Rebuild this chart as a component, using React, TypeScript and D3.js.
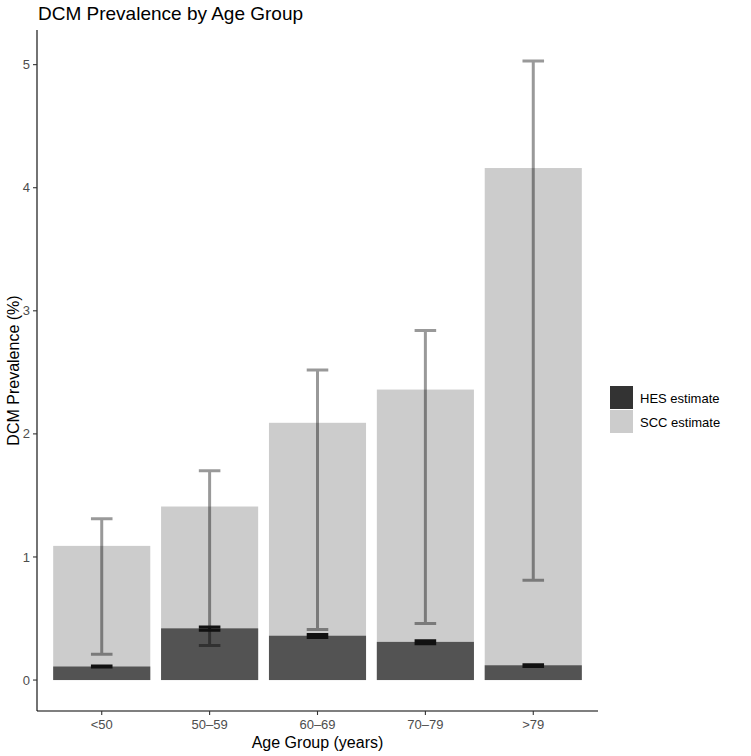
import React from "react";
import * as d3 from "d3";

const categories = ["<50", "50–59", "60–69", "70–79", ">79"];
const sccEstimate = [1.09, 1.41, 2.09, 2.36, 4.16];
const sccLower = [0.21, 0.28, 0.41, 0.46, 0.81];
const sccUpper = [1.31, 1.70, 2.52, 2.84, 5.03];
const hesEstimate = [0.11, 0.42, 0.36, 0.31, 0.12];
const hesLower = [0.105, 0.405, 0.345, 0.295, 0.11];
const hesUpper = [0.115, 0.43, 0.37, 0.32, 0.125];
const yTicks = [0, 1, 2, 3, 4, 5];
const legendItems = ["HES estimate", "SCC estimate"];

const W = 751;
const H = 756;
const FONT = "'Liberation Sans', Arial, Helvetica, sans-serif";

export default function App() {
  const left = 37;
  const right = 598;
  const top = 30;
  const bottom = 711;

  const x = d3
    .scaleBand<string>()
    .domain(categories)
    .range([left, right])
    .paddingInner(0.1)
    .paddingOuter(0.15);
  const y = d3.scaleLinear().domain([-0.2515, 5.2815]).range([bottom, top]);
  const bw = x.bandwidth();
  const capW = x.step() * 0.2;

  const legendColors = ["#333333", "#cccccc"];

  return (
    <svg
      width={W}
      height={H}
      style={{ position: "absolute", left: 0, top: 0, background: "#fff" }}
      fontFamily={FONT}
    >
      <rect x={0} y={0} width={W} height={H} fill="#fff" />
      {/* title */}
      <text x={38} y={20} fontSize={19} fill="#000">
        DCM Prevalence by Age Group
      </text>

      {/* SCC bars */}
      {categories.map((c, i) => (
        <rect
          key={"scc" + c}
          x={x(c)}
          y={y(sccEstimate[i])}
          width={bw}
          height={y(0) - y(sccEstimate[i])}
          fill="#cccccc"
        />
      ))}
      {/* HES bars */}
      {categories.map((c, i) => (
        <rect
          key={"hes" + c}
          x={x(c)}
          y={y(hesEstimate[i])}
          width={bw}
          height={y(0) - y(hesEstimate[i])}
          fill="#535353"
        />
      ))}
      {/* SCC error bars */}
      {categories.map((c, i) => {
        const cx = (x(c) as number) + bw / 2;
        return (
          <g key={"sccerr" + c} stroke="#000" strokeOpacity={0.4} strokeWidth={3} fill="none">
            <path
              d={`M${cx - capW / 2},${y(sccUpper[i])}H${cx + capW / 2}M${cx},${y(sccUpper[i])}V${y(
                sccLower[i]
              )}M${cx - capW / 2},${y(sccLower[i])}H${cx + capW / 2}`}
            />
          </g>
        );
      })}
      {/* HES error bars */}
      {categories.map((c, i) => {
        const cx = (x(c) as number) + bw / 2;
        return (
          <g key={"heserr" + c} stroke="#111" strokeWidth={3} fill="none">
            <path
              d={`M${cx - capW / 2},${y(hesUpper[i])}H${cx + capW / 2}M${cx},${y(hesUpper[i])}V${y(
                hesLower[i]
              )}M${cx - capW / 2},${y(hesLower[i])}H${cx + capW / 2}`}
            />
          </g>
        );
      })}

      {/* axes */}
      <line x1={left} x2={left} y1={top} y2={bottom} stroke="#000" strokeWidth={1.1} />
      <line x1={left} x2={right} y1={bottom} y2={bottom} stroke="#000" strokeWidth={1.1} />
      {yTicks.map((t) => (
        <g key={"yt" + t}>
          <line x1={left - 4} x2={left} y1={y(t)} y2={y(t)} stroke="#333" strokeWidth={1.1} />
          <text
            x={left - 7}
            y={y(t)}
            dy="0.35em"
            textAnchor="end"
            fontSize={13}
            fill="#4d4d4d"
          >
            {t}
          </text>
        </g>
      ))}
      {categories.map((c) => {
        const cx = (x(c) as number) + bw / 2;
        return (
          <g key={"xt" + c}>
            <line x1={cx} x2={cx} y1={bottom} y2={bottom + 4} stroke="#333" strokeWidth={1.1} />
            <text x={cx} y={bottom + 18} textAnchor="middle" fontSize={13} fill="#4d4d4d">
              {c}
            </text>
          </g>
        );
      })}
      <text x={(left + right) / 2} y={748} textAnchor="middle" fontSize={16} fill="#000">
        Age Group (years)
      </text>
      <text
        transform={`translate(19,${(top + bottom) / 2}) rotate(-90)`}
        textAnchor="middle"
        fontSize={16}
        fill="#000"
      >
        DCM Prevalence (%)
      </text>

      {/* legend */}
      {legendItems.map((l, i) => (
        <g key={"lg" + l} transform={`translate(610,${386 + i * 24})`}>
          <rect x={0} y={0} width={23} height={23} fill={legendColors[i]} />
          <text x={30} y={12} dy="0.35em" fontSize={13} fill="#000">
            {l}
          </text>
        </g>
      ))}
    </svg>
  );
}
